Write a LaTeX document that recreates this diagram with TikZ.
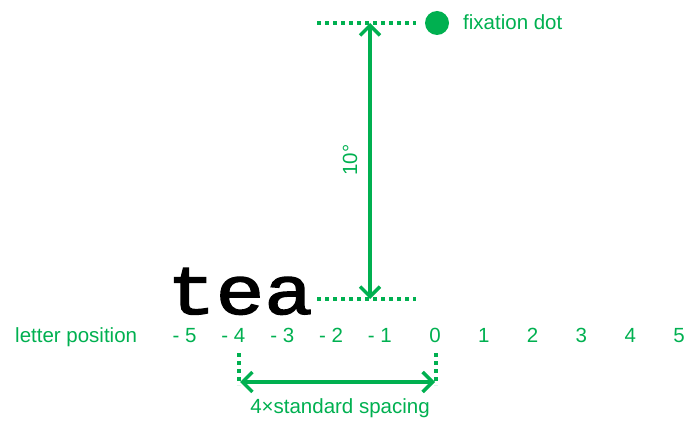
\documentclass[tikz,border=0pt]{standalone}
\usepackage{fontspec}
\setmainfont{Liberation Sans}
\newfontfamily\teafont{Liberation Mono}[FakeBold=2]
\usetikzlibrary{arrows.meta}
\definecolor{fixgreen}{RGB}{0,176,80}

\begin{document}
\begin{tikzpicture}[
    x=1pt, y=-1pt,
    every node/.style={font=\fontsize{20.5}{24}\selectfont, text=fixgreen, inner sep=0pt},
    guide/.style={
        draw=fixgreen,
        line width=3.5pt,
        dash pattern=on 4pt off 4pt
    },
    dimarr/.style={
        draw=fixgreen,
        line width=3.4pt,
        {Straight Barb[length=10pt,width=20pt]}-{Straight Barb[length=10pt,width=20pt]}
    }
]
    \useasboundingbox (0,0) rectangle (699,422);

    % fixation
    \node[circle, fill=fixgreen, minimum size=24pt] (dot) at (437,23) {};
    \node[anchor=base west] (dotlabel) at (463,30) {fixation dot};
    \coordinate (fixL) at (317,23);
    \coordinate (fixR) at (416,23);
    \coordinate (fixmid) at (370,23);
    \draw[guide] (fixL) -- (fixR);

    % word
    \node[font=\teafont\fontsize{81}{81}\selectfont, text=black, anchor=base] (word) at (240,314) {\scalebox{1}[0.85]{tea}};
    \coordinate (wordL) at (317,299);
    \coordinate (wordR) at (416,299);
    \coordinate (wordmid) at (370,299);
    \draw[guide] (wordL) -- (wordR);

    % eccentricity
    \draw[dimarr] (wordmid) -- (fixmid);
    \node[rotate=90] (anglelabel) at (350,160) {10°};

    % letter positions
    \node[anchor=base west] (axislabel) at (15,342) {letter position};
    \node[anchor=base] (pos0) at (435,342) {0};
    \foreach \n in {1,...,5}{
        \node[anchor=base east] (neg\n) at ({435-48.8*\n+5.8},342) {- \n};
        \node[anchor=base] (pos\n) at ({435+48.8*\n},342) {\n};
    }

    % spacing
    \coordinate (spanLtop) at (239,353);
    \coordinate (spanLbot) at (239,385);
    \coordinate (spanRtop) at (436,353);
    \coordinate (spanRbot) at (436,385);
    \coordinate (spanLmid) at (240,382);
    \coordinate (spanRmid) at (435,382);
    \draw[guide] (spanLtop) -- (spanLbot);
    \draw[guide] (spanRtop) -- (spanRbot);
    \draw[dimarr] (spanLmid) -- (spanRmid);
    \node[anchor=base] (spanlabel) at (340,413) {4×standard spacing};

\end{tikzpicture}
\end{document}
